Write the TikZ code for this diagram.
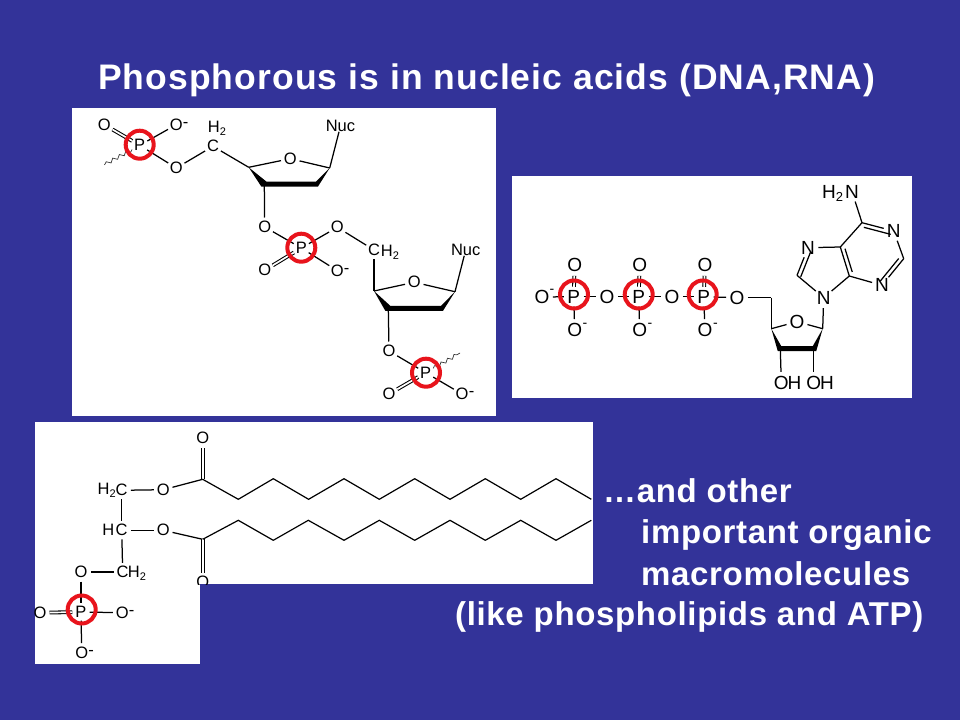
\documentclass[tikz,border=0pt]{standalone}
\usepackage{fontspec}
\setmainfont{Liberation Sans}
\usetikzlibrary{calc,decorations.pathmorphing}
\definecolor{slide}{HTML}{333399}
\definecolor{ring}{HTML}{E8141C}
\newcommand{\subtwo}[1]{\raisebox{-3pt}{\fontsize{#1}{#1}\selectfont 2}}
\tikzset{
  x=1pt,y=-1pt,
  panel/.style={fill=white,draw=none},
  atom/.style={circle,inner sep=0.6pt,outer sep=0pt,font=\fontsize{16.5}{18}\selectfont,text=black},
  bigatom/.style={circle,inner sep=0.6pt,outer sep=0pt,font=\fontsize{19}{21}\selectfont,text=black},
  lab/.style={inner sep=0pt,outer sep=0pt,font=\fontsize{16.5}{18}\selectfont,text=black},
  biglab/.style={inner sep=0pt,outer sep=0pt,font=\fontsize{19}{21}\selectfont,text=black},
  bond/.style={draw=black,line width=1.25pt},
  thinbond/.style={draw=black,line width=1.2pt},
  dbl/.style={draw=black,line width=1.05pt,double=white,double distance=1.7pt},
  wavy/.style={draw=black!80,line width=0.7pt,decorate,decoration={snake,amplitude=1.7pt,segment length=7.5pt}},
  pring/.style={circle,draw=ring,line width=4pt,minimum size=28pt,inner sep=0pt,outer sep=0pt},
  slidetext/.style={text=white,font=\fontsize{33}{36}\bfseries\selectfont\addfontfeature{LetterSpace=2},anchor=base west,inner sep=0pt},
}
\begin{document}
\begin{tikzpicture}
\useasboundingbox (0,0) rectangle (960,720);
\fill[slide] (0,0) rectangle (960,720);
% panels
\fill[panel] (72,108) rectangle (496,416);
\fill[panel] (512,176) rectangle (912,398);
\fill[panel] (35,422) rectangle (593,584);
\fill[panel] (35,584) rectangle (200,664);
% title
\node[text=white,font=\fontsize{35.5}{38}\bfseries\selectfont\addfontfeature{LetterSpace=3},anchor=base west,inner sep=0pt] (title) at (98,89.5) {Phosphorous is in nucleic acids (DNA,RNA)};
\node[slidetext] (t1) at (603,502.5) {…and other};
\node[slidetext] (t2) at (641,543.5) {important organic};
\node[slidetext] (t3) at (641,585) {macromolecules};
\node[slidetext] (t4) at (455,625.5) {(like phospholipids and ATP)};

% ---------- panel 1: nucleic acid
\node[atom] (a1) at (104.3,124.7) {O};
\node[atom] (p1) at (139.7,145.3) {P};
\node[atom] (a2) at (176.3,124.7) {O};
\node[lab] (a2m) at (185.5,124.5) {-};
\node[atom] (a3) at (176.3,168) {O};
\node[atom] (c5) at (213,146.3) {C};
\node[lab] (c5h) at (217,128.7) {H\subtwo{11}};
\coordinate (r1a) at (248.7,167.3);
\node[atom] (r1o) at (290.3,158.7) {O};
\coordinate (r1b) at (329.7,168);
\coordinate (r1c) at (316,184);
\coordinate (r1d) at (264.3,184);
\node[lab] (nuc1) at (340.5,126) {Nuc};
\node[atom] (a4) at (264.7,227) {O};
\node[atom] (p2) at (301.3,248) {P};
\node[atom] (a5) at (264.7,270.3) {O};
\node[atom] (a6) at (337.3,227.3) {O};
\node[atom] (a7) at (337.3,270.7) {O};
\node[lab] (a7m) at (346.5,270.5) {-};
\node[atom] (c6) at (374,250) {C};
\node[lab] (c6h) at (390,252) {H\subtwo{11}};
\coordinate (r2a) at (374,291);
\node[atom] (r2o) at (414.3,282.3) {O};
\coordinate (r2b) at (455,291.7);
\coordinate (r2c) at (441,308.3);
\coordinate (r2d) at (388.3,308.3);
\node[lab] (nuc2) at (465.7,250) {Nuc};
\node[atom] (a8) at (389,351) {O};
\node[atom] (p3) at (425.7,372.7) {P};
\node[atom] (a9) at (389,394) {O};
\node[atom] (a10) at (462,394) {O};
\node[lab] (a10m) at (471.5,394) {-};
\coordinate (w1) at (104.3,164.7);
\coordinate (w2) at (460,353);

\draw[dbl] (a1) -- (p1);
\draw[bond] (a2) -- (p1);
\draw[bond] (a3) -- (p1);
\draw[wavy] (p1) -- (w1);
\draw[bond] (a3) -- (c5);
\draw[bond] (c5) -- (r1a);
\draw[bond] (r1a) -- (r1o);
\draw[bond] (r1o) -- (r1b);
\draw[bond] (r1b) -- (nuc1);
\draw[bond] (r1d) -- (a4);
\draw[bond] (a4) -- (p2);
\draw[dbl] (a5) -- (p2);
\draw[bond] (a6) -- (p2);
\draw[bond] (a7) -- (p2);
\draw[bond] (a6) -- (c6);
\draw[bond] (c6) -- (r2a);
\draw[bond] (r2a) -- (r2o);
\draw[bond] (r2o) -- (r2b);
\draw[bond] (r2b) -- (nuc2);
\draw[bond] (r2d) -- (a8);
\draw[bond] (a8) -- (p3);
\draw[dbl] (a9) -- (p3);
\draw[bond] (a10) -- (p3);
\draw[wavy] (p3) -- (w2);
\fill[black] (r1a) -- ($(r1d)+(-3,2.5)$) -- ($(r1c)+(2,2.5)$) -- (r1b) -- ($(r1c)+(0,-2.5)$) -- ($(r1d)+(2,-2.5)$) -- cycle;
\fill[black] (r2a) -- ($(r2d)+(-3,2.5)$) -- ($(r2c)+(2,2.5)$) -- (r2b) -- ($(r2c)+(0,-2.5)$) -- ($(r2d)+(2,-2.5)$) -- cycle;

% ---------- panel 2: ATP
\node[bigatom] (b0) at (542,297) {O};
\node[biglab] (b0m) at (552,291.5) {\fontsize{14}{14}\selectfont -};
\node[bigatom] (q1) at (573.7,296.7) {P};
\node[bigatom] (b1u) at (574.7,265) {O};
\node[bigatom] (b1d) at (574.7,330) {O};
\node[biglab] (b1m) at (585,325) {\fontsize{14}{14}\selectfont -};
\node[bigatom] (b1) at (607,296.7) {O};
\node[bigatom] (q2) at (638.7,296.7) {P};
\node[bigatom] (b2u) at (639.7,265) {O};
\node[bigatom] (b2d) at (639.7,330) {O};
\node[biglab] (b2m) at (650,325) {\fontsize{14}{14}\selectfont -};
\node[bigatom] (b2) at (672,296.7) {O};
\node[bigatom] (q3) at (703.7,296.7) {P};
\node[bigatom] (b3u) at (705,265) {O};
\node[bigatom] (b3d) at (705,330) {O};
\node[biglab] (b3m) at (715.5,325) {\fontsize{14}{14}\selectfont -};
\node[bigatom] (b3) at (737,297.7) {O};
\coordinate (ch) at (771.3,297.7);
\coordinate (s4) at (771.3,328.7);
\node[bigatom] (so) at (797,321.7) {O};
\coordinate (s1) at (822.7,328.7);
\coordinate (s2) at (813.7,348.7);
\coordinate (s3) at (780.3,348.7);
\node[bigatom] (oh1) at (781.3,382.7) {O};
\node[biglab] (oh1h) at (794.5,382.7) {H};
\node[bigatom] (oh2) at (813.7,382.7) {O};
\node[biglab] (oh2h) at (827,382.7) {H};
\node[bigatom] (n9) at (823.7,297.7) {N};
\coordinate (c8) at (797,275.3);
\node[bigatom] (n7) at (808,247.7) {N};
\coordinate (cc5) at (840.3,247);
\coordinate (cc4) at (849.3,276);
\node[bigatom] (n3) at (882,285.3) {N};
\coordinate (cc2) at (903.7,258.7);
\node[bigatom] (n1) at (893.7,231) {N};
\coordinate (cc6) at (862,222.7);
\node[bigatom] (nh) at (852,191.7) {N};
\node[biglab] (nhh) at (832.5,193) {H\subtwo{13}};

\draw[bond] (b0) -- (q1);
\draw[bond] (q1) -- (b1d);
\draw[dbl] (q1) -- (b1u);
\draw[bond] (q1) -- (b1);
\draw[bond] (b1) -- (q2);
\draw[bond] (q2) -- (b2d);
\draw[dbl] (q2) -- (b2u);
\draw[bond] (q2) -- (b2);
\draw[bond] (b2) -- (q3);
\draw[bond] (q3) -- (b3d);
\draw[dbl] (q3) -- (b3u);
\draw[bond] (q3) -- (b3);
\draw[bond] (b3) -- (ch);
\draw[bond] (ch) -- (s4);
\draw[bond] (s4) -- (so);
\draw[bond] (so) -- (s1);
\draw[bond] (s1) -- (n9);
\draw[bond] (s3) -- (oh1);
\draw[bond] (s2) -- (oh2);
\fill[black] (s4) -- ($(s3)+(-2.5,2.5)$) -- ($(s2)+(2.5,2.5)$) -- (s1) -- ($(s2)+(-1,-2.5)$) -- ($(s3)+(1,-2.5)$) -- cycle;
\draw[bond] (n9) -- (c8);
\draw[bond] (c8) -- (n7);
\draw[bond,shorten >=3pt] ($(c8)!4pt!-90:(n7)$) -- ($(n7)!4pt!90:(c8)$);
\draw[bond] (n7) -- (cc5);
\draw[bond] (cc5) -- (cc4);
\draw[bond,shorten >=3pt,shorten <=3pt] ($(cc5)!4pt!90:(cc4)$) -- ($(cc4)!4pt!-90:(cc5)$);
\draw[bond] (cc4) -- (n9);
\draw[bond] (cc4) -- (n3);
\draw[bond] (n3) -- (cc2);
\draw[bond,shorten <=2pt,shorten >=3pt] ($(n3)!4pt!90:(cc2)$) -- ($(cc2)!4pt!-90:(n3)$);
\draw[bond] (cc2) -- (n1);
\draw[bond] (n1) -- (cc6);
\draw[bond,shorten <=2pt,shorten >=3pt] ($(n1)!4pt!90:(cc6)$) -- ($(cc6)!4pt!-90:(n1)$);
\draw[bond] (cc6) -- (cc5);
\draw[bond] (cc6) -- (nh);

% ---------- panel 3: phospholipid
\node[atom] (d1) at (202.7,438) {O};
\coordinate (k1) at (202.7,479.3);
\node[atom] (d2) at (163.3,489.7) {O};
\node[atom] (e1) at (121.7,490.3) {C};
\node[lab] (e1h) at (106.7,490.3) {H\subtwo{11}};
\node[atom] (e2) at (121.7,530.3) {C};
\node[lab] (e2h) at (108.3,530.3) {H};
\node[atom] (d3) at (163.3,530.3) {O};
\coordinate (k2) at (202.7,539.3);
\begin{scope}
\clip (35,422) rectangle (593,584);
\node[atom] (d4) at (202.7,582) {O};
\end{scope}
\node[atom] (e3) at (122.7,572) {C};
\node[lab] (e3h) at (137,573.5) {H\subtwo{11}};
\node[atom] (d5) at (81,572) {O};
\node[atom] (p4) at (81,612) {P};
\node[atom] (d6) at (40,612.7) {O};
\node[atom] (d7) at (122.3,612.7) {O};
\node[lab] (d7m) at (131.5,613) {-};
\node[atom] (d8) at (81.7,652.7) {O};
\node[lab] (d8m) at (91,653) {-};

\draw[dbl] (k1) -- (d1);
\draw[bond] (d2) -- (k1);
\draw[bond] (e1) -- (d2);
\draw[bond] (e1) -- (e2);
\draw[bond] (e2) -- (d3);
\draw[bond] (d3) -- (k2);
\draw[dbl] (k2) -- (d4);
\draw[bond] (e2) -- (e3);
\draw[bond] (e3) -- (d5);
\draw[bond] (d5) -- (p4);
\draw[dbl] (d6) -- (p4);
\draw[bond] (p4) -- (d7);
\draw[bond] (p4) -- (d8);
\draw[thinbond] (k1) -- ++(35.6,20) -- ++(35,-20.6) -- ++(35.3,20.6) -- ++(35.4,-20.6) -- ++(35.3,20.6) -- ++(35.4,-20.6) -- ++(35.3,20.6) -- ++(35.3,-20.6) -- ++(35.4,20.6) -- ++(35.3,-20.6) -- ++(35.3,20.6);
\draw[thinbond] (k2) -- ++(35.6,-19) -- ++(35,20) -- ++(35,-20) -- ++(35.7,20) -- ++(35.3,-20) -- ++(35.4,20) -- ++(35.3,-20) -- ++(35.3,20) -- ++(35.4,-20) -- ++(35.3,20) -- ++(35.3,-20);

% ---------- rings round phosphorus
\node[pring] (o1) at (139.7,144.7) {};
\node[pring] (o2) at (301.3,247.7) {};
\node[pring] (o3) at (426,372.7) {};
\node[pring] (o4) at (574,294.5) {};
\node[pring] (o5) at (638.7,294.5) {};
\node[pring] (o6) at (702.7,294.5) {};
\node[pring] (o7) at (81.7,609.5) {};
\end{tikzpicture}
\end{document}
